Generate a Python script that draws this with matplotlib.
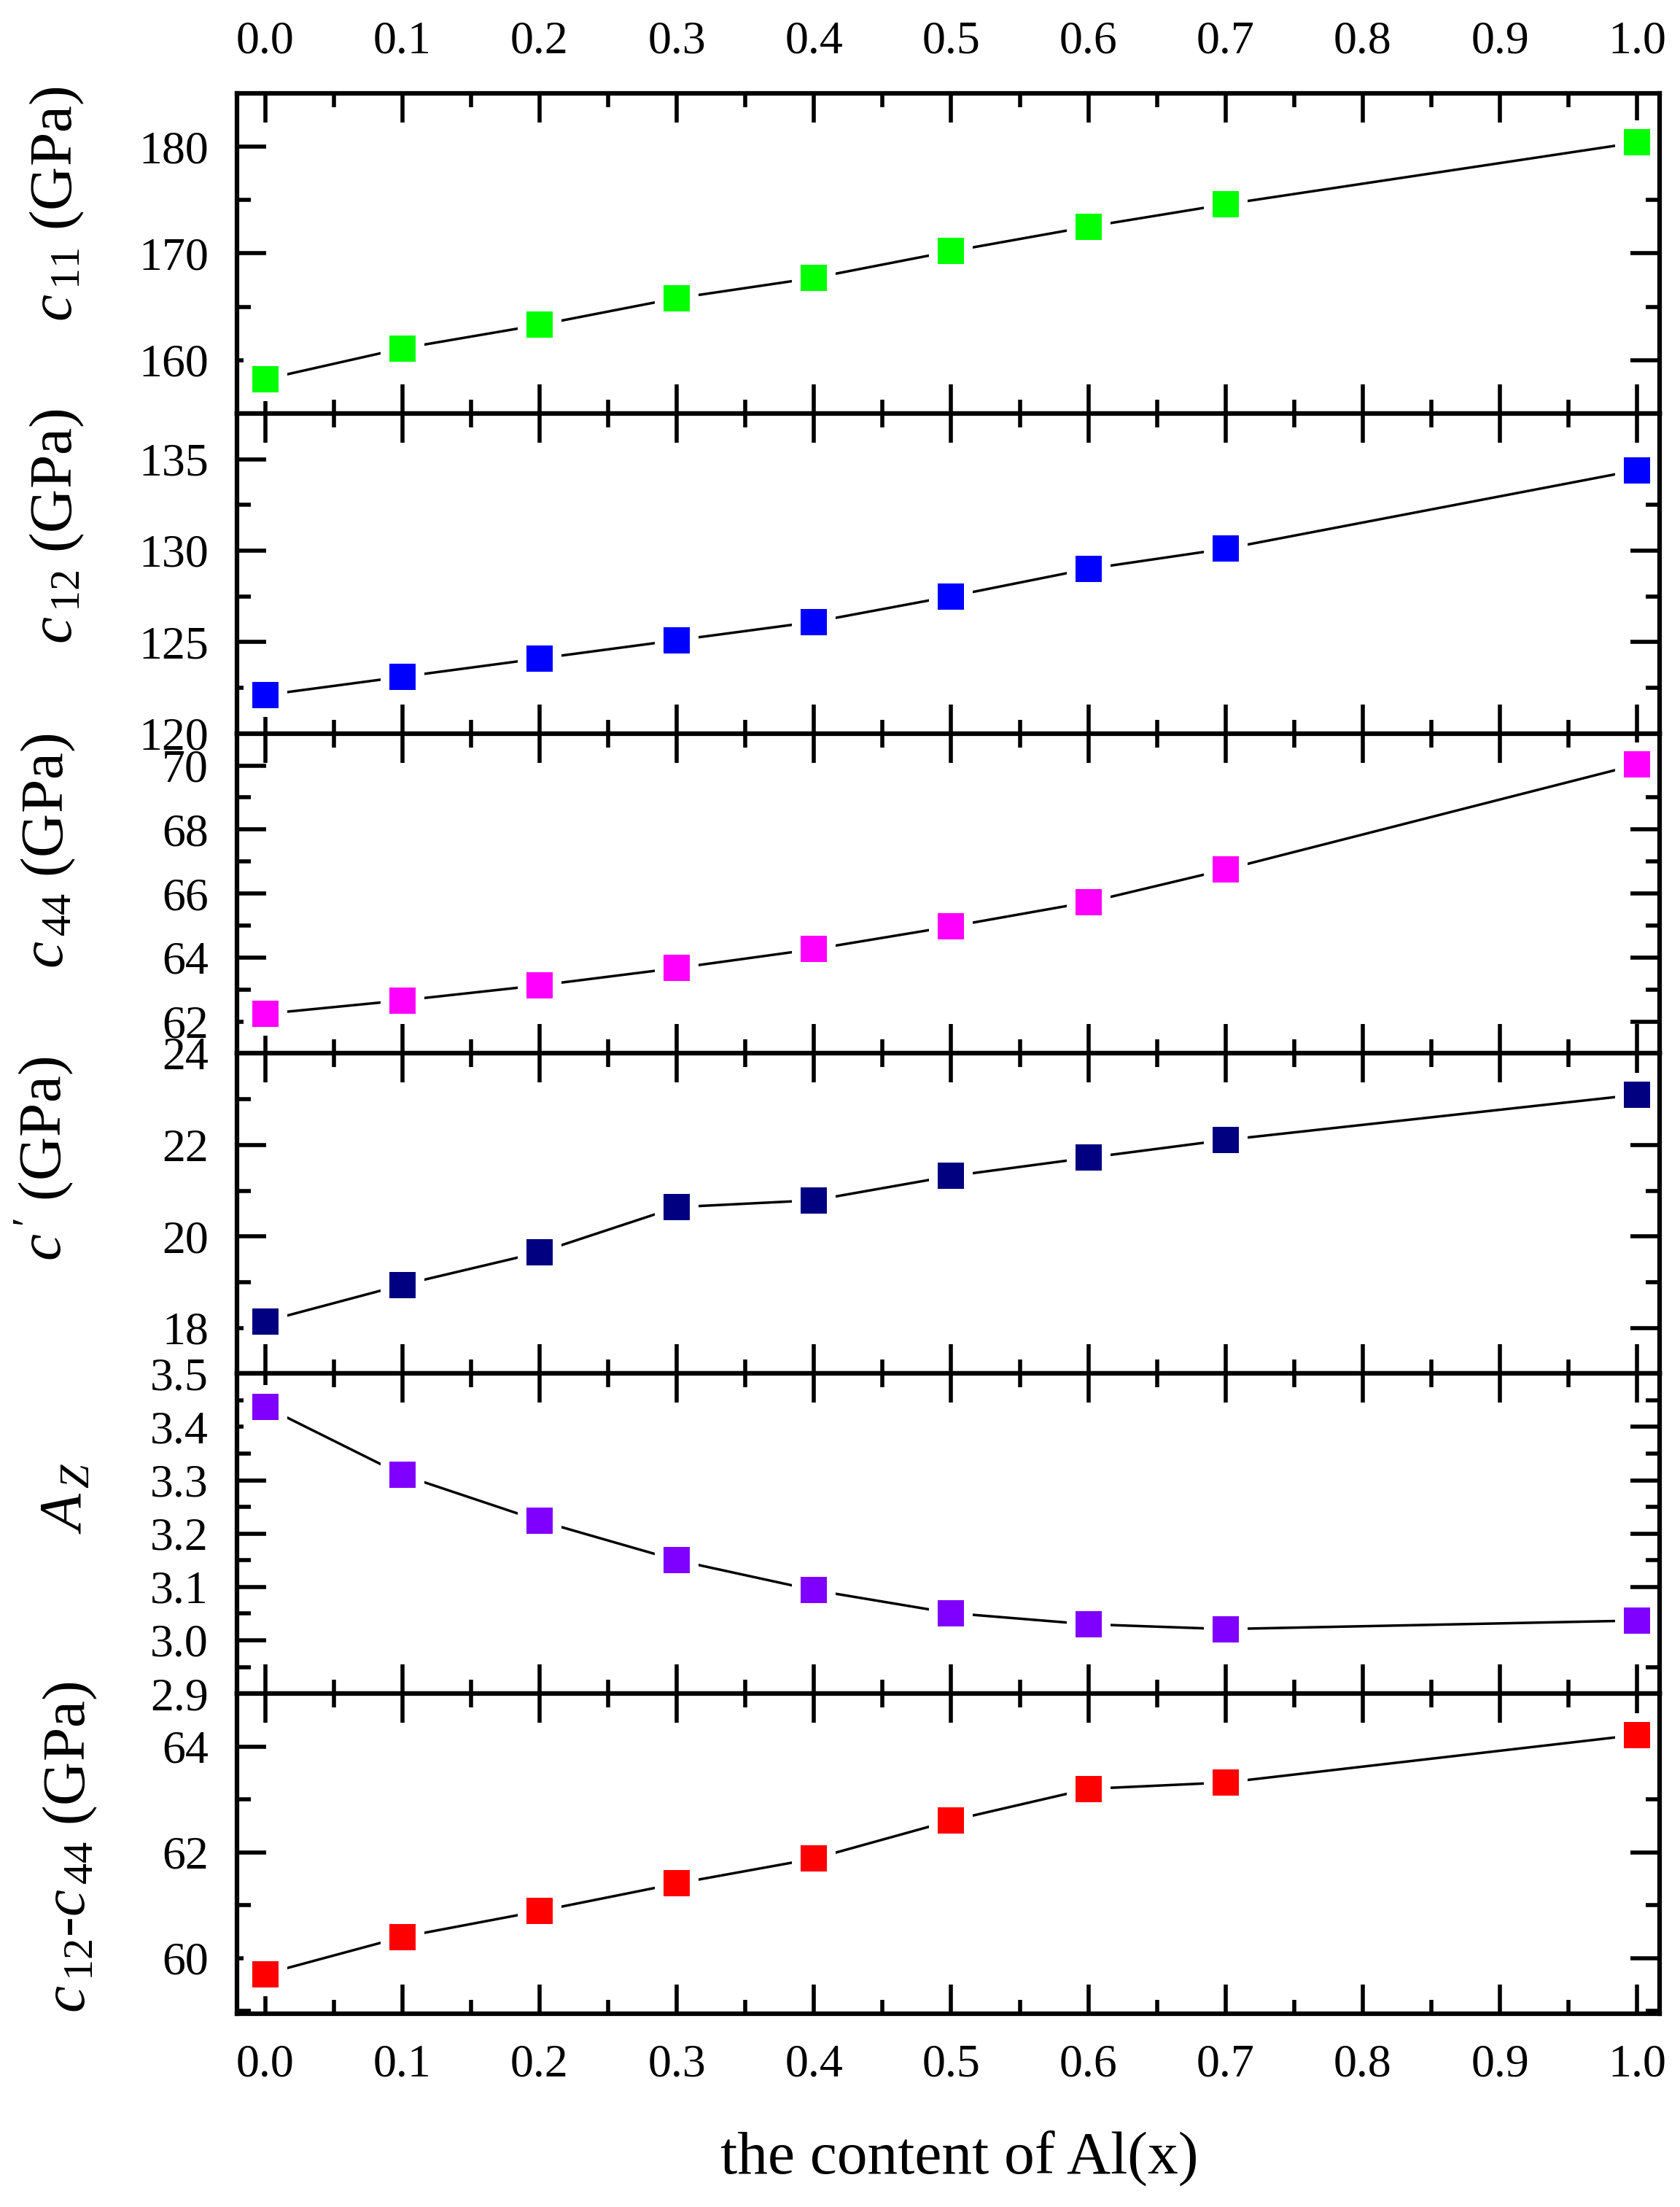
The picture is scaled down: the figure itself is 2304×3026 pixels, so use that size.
import matplotlib
matplotlib.use("Agg")
import matplotlib.pyplot as plt
from matplotlib.ticker import MultipleLocator, AutoMinorLocator, FormatStrFormatter

# Al content and elastic constants
x = [0.0, 0.1, 0.2, 0.3, 0.4, 0.5, 0.6, 0.7, 1.0]
c11 = [158.2, 161.1, 163.3, 165.8, 167.7, 170.2, 172.5, 174.6, 180.4]
c12 = [122.1, 123.1, 124.1, 125.1, 126.1, 127.5, 129.0, 130.1, 134.4]
c44 = [62.24, 62.66, 63.13, 63.67, 64.26, 64.97, 65.73, 66.75, 70.03]
cprime = [18.14, 18.94, 19.65, 20.64, 20.79, 21.32, 21.72, 22.11, 23.10]
az = [3.438, 3.310, 3.224, 3.150, 3.094, 3.051, 3.030, 3.021, 3.037]
c12_c44 = [59.70, 60.40, 60.89, 61.41, 61.88, 62.60, 63.20, 63.32, 64.22]

ylabels = [r"$c_{\,11}$ (GPa)", r"$c_{\,12}$ (GPa)", r"$c_{\,44}$ (GPa)",
           r"$c^{\,\prime}$ (GPa)", r"$A_{\,Z}$", r"$c_{\,12}$-$c_{\,44}$ (GPa)"]
colors = ["#00ff00", "#0000ff", "#ff00ff", "#000080", "#8000ff", "#ff0000"]
series = [c11, c12, c44, cprime, az, c12_c44]

plt.rcParams['font.family'] = ['Liberation Serif', 'DejaVu Serif']
plt.rcParams['mathtext.fontset'] = 'custom'
plt.rcParams['mathtext.rm'] = 'Liberation Serif'
plt.rcParams['mathtext.it'] = 'Liberation Serif:italic'

# per-panel axis settings
ylims = [(155, 185), (120, 137.5), (61, 71), (17, 24), (2.9, 3.5), (58.95, 65)]
ysteps = [10, 5, 2, 2, 0.1, 2]
yfmts = ["%d", "%d", "%d", "%d", "%.1f", "%d"]
label_x = [-0.106, -0.106, -0.112, -0.113, -0.100, -0.097]
label_y = [0.655, 0.646, 0.633, 0.67, 0.61, 0.52]

fig, axes = plt.subplots(6, 1, sharex=True, figsize=(23.04, 30.26), dpi=100)
fig.subplots_adjust(left=0.141, right=0.988, top=0.9577, bottom=0.0876, hspace=0)

for i, ax in enumerate(axes):
    # white squares under the line leave the small gaps round each symbol
    ax.plot(x, series[i], '-', color='black', lw=2.5, marker='s', ms=43,
            mfc='white', mec='white', mew=0, zorder=2)
    ax.plot(x, series[i], 's', color=colors[i], ms=26, mew=0, zorder=3)
    ax.set_ylim(*ylims[i])
    ax.set_xlim(-0.0206, 1.0165)
    ax.yaxis.set_major_locator(MultipleLocator(ysteps[i]))
    ax.yaxis.set_minor_locator(AutoMinorLocator(2))
    ax.yaxis.set_major_formatter(FormatStrFormatter(yfmts[i]))
    ax.xaxis.set_major_locator(MultipleLocator(0.1))
    ax.xaxis.set_minor_locator(MultipleLocator(0.05))
    ax.xaxis.set_major_formatter(FormatStrFormatter("%.1f"))
    ax.tick_params(which='both', direction='in', top=True, right=True,
                   bottom=True, left=True, width=4, labelsize=46)
    ax.tick_params(which='major', length=29)
    ax.tick_params(which='minor', length=14)
    ax.tick_params(axis='y', pad=28)
    ax.tick_params(axis='x', pad=30, labelbottom=(i == 5), labeltop=(i == 0))
    for s in ax.spines.values():
        s.set_linewidth(4.5)
    ax.set_ylabel(ylabels[i], fontsize=60)
    ax.yaxis.set_label_coords(label_x[i], label_y[i])

axes[5].set_xlabel("the content of Al(x)", fontsize=60)
axes[5].xaxis.set_label_coords(0.508, -0.365)

fig.savefig("out.png", dpi=100)
